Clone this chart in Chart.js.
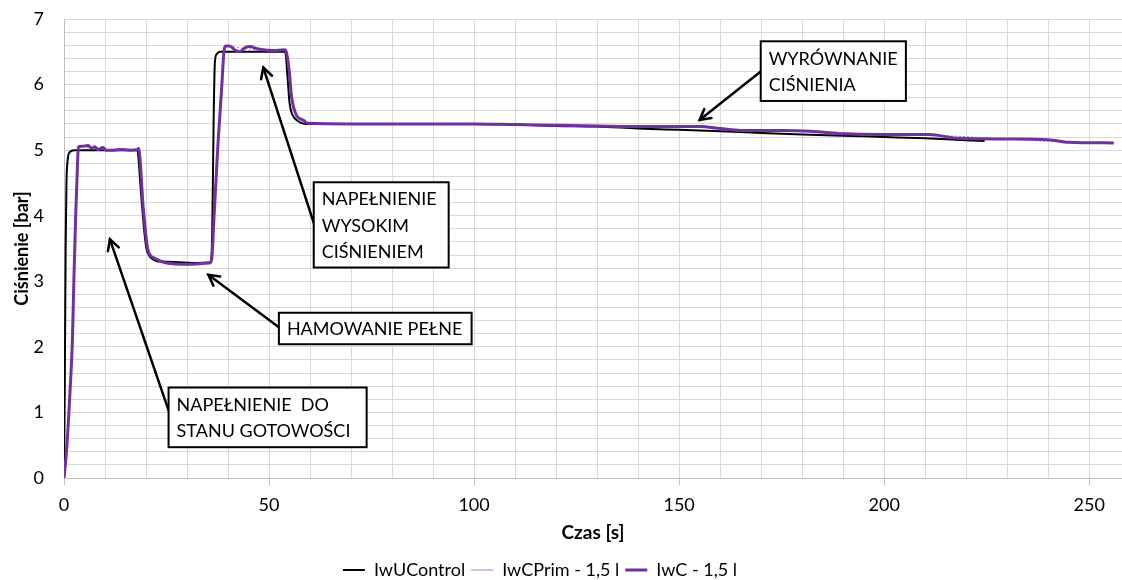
<!DOCTYPE html>
<html>
<head>
<meta charset="utf-8">
<script src="https://cdn.jsdelivr.net/npm/chart.js@4/dist/chart.umd.min.js"></script>
<style>
  html, body { margin: 0; padding: 0; background: #ffffff; }
  #wrap { width: 1122px; height: 580px; }
</style>
</head>
<body>
<div id="wrap"><canvas id="c" width="1122" height="580"></canvas></div>
<script>
// ---- Data ----
const seriesNames = ['IwUControl', 'IwCPrim - 1,5 l', 'IwC - 1,5 l'];

const uControlTime = [0, 0.2, 0.4, 0.6, 0.9, 1.4, 2.5, 8, 14, 17.9, 18.2, 18.6, 19.1, 19.6, 20.1, 20.7, 21.3, 22.5, 24, 28, 32, 35.9,
  36.2, 36.5, 36.8, 37.3, 38, 42, 46, 50, 53.8, 54.1, 54.4, 54.7, 55.0, 55.5, 56.1, 56.7, 57.7, 59,
  70, 80, 90, 100, 110, 120, 130, 140, 150, 160, 170, 180, 190, 200, 210, 220, 224.5];
const uControlPressure = [0, 1.5, 3.5, 4.5, 4.85, 4.97, 5.0, 5.0, 5.0, 5.0, 4.85, 4.5, 4.1, 3.75, 3.5, 3.4, 3.35, 3.31, 3.3, 3.29, 3.28, 3.29,
  4.0, 5.5, 6.35, 6.47, 6.5, 6.5, 6.5, 6.5, 6.5, 6.45, 6.2, 5.95, 5.72, 5.57, 5.5, 5.46, 5.42, 5.4,
  5.4, 5.4, 5.4, 5.4, 5.39, 5.37, 5.36, 5.33, 5.31, 5.29, 5.26, 5.24, 5.22, 5.2, 5.18, 5.15, 5.14];

const iwcTime = [0, 0.6, 1.2, 1.7, 2.05, 2.4, 2.85, 3.3, 3.5, 4.4, 5.9, 6.7, 7.5, 8.3, 9.5, 10.3, 12, 14, 16, 18.0,
  18.2, 19.3, 20.5, 22.1, 25, 29.9, 35.5, 36.0, 36.6, 37.2, 37.6, 38.4, 39.1, 39.5, 40.4, 41.6, 42.8, 44.1, 45.3, 46.9, 48.5, 51, 53.8,
  54.2, 54.9, 55.5, 56.7, 58.3, 59.5, 70, 80, 90, 100, 110, 120, 130, 140, 150, 155, 160, 165, 175, 182,
  190, 200, 211, 218, 230, 240, 245, 256];
const iwcPressure = [0, 0.4, 1.0, 1.6, 2.1, 3.0, 4.0, 4.8, 5.05, 5.06, 5.07, 5.03, 5.05, 5.01, 5.04, 5.0, 5.0, 5.01, 5.0, 5.01,
  5.03, 4.14, 3.47, 3.35, 3.28, 3.26, 3.28, 3.33, 4.0, 4.7, 5.15, 5.9, 6.55, 6.59, 6.59, 6.53, 6.5, 6.56, 6.58, 6.55, 6.53, 6.52, 6.53,
  6.5, 6.22, 5.81, 5.53, 5.46, 5.41, 5.4, 5.4, 5.4, 5.4, 5.39, 5.38, 5.37, 5.36, 5.36, 5.36, 5.33, 5.3, 5.3, 5.29,
  5.25, 5.24, 5.24, 5.18, 5.17, 5.16, 5.12, 5.11];

const primTime = [0, 1.2, 2.05, 2.85, 3.5, 6, 10, 14, 18.0, 19.3, 20.5, 22.1, 25, 30, 35.5, 36.6, 37.6, 39.1, 40.4, 44, 48, 53.8,
  54.9, 55.5, 56.7, 58.3, 60, 80, 100, 120, 140, 155, 165, 180, 200, 215, 230, 245, 256];
const primPressure = [0, 1.0, 2.1, 4.0, 5.05, 5.04, 5.01, 5.0, 5.01, 4.14, 3.47, 3.35, 3.28, 3.27, 3.28, 4.0, 5.15, 6.55, 6.58, 6.55, 6.53, 6.52,
  6.22, 5.81, 5.53, 5.46, 5.4, 5.4, 5.4, 5.38, 5.36, 5.36, 5.3, 5.29, 5.24, 5.22, 5.17, 5.12, 5.11];

const xTickLabels = [0, 50, 100, 150, 200, 250];
const yTickLabels = [0, 1, 2, 3, 4, 5, 6, 7];

// ---- Callouts (text + anchor in data units) ----
const callouts = [
  { lines: ['NAPEŁNIENIE  DO', 'STANU GOTOWOŚCI'], box: [25.5, 1.38, 73.8, 0.47], from: [25.5, 1.03], tip: [11.2, 3.64] },
  { lines: ['HAMOWANIE PEŁNE'], box: [52.4, 2.52, 99.4, 2.04], from: [52.4, 2.30], tip: [35.2, 3.10] },
  { lines: ['NAPEŁNIENIE', 'WYSOKIM', 'CIŚNIENIEM'], box: [60.9, 4.51, 93.8, 3.21], from: [60.9, 3.89], tip: [48.6, 6.26] },
  { lines: ['WYRÓWNANIE', 'CIŚNIENIA'], box: [169.9, 6.66, 205.3, 5.75], from: [169.9, 6.2], tip: [155.0, 5.46] }
];

function pts(t, v) { return t.map((x, i) => ({ x: x, y: v[i] })); }

const FONT = 'Lato, "Open Sans", "DejaVu Sans", sans-serif';
const GRID = '#d9d9d9';

// horizontal minor grid drawn from the y scale's own ticks
const hGridPlugin = {
  id: 'hgrid',
  beforeDatasetsDraw(chart) {
    const ctx = chart.ctx, ys = chart.scales.y, a = chart.chartArea;
    ctx.save();
    ctx.strokeStyle = GRID; ctx.lineWidth = 1;
    ys.ticks.forEach(t => {
      if (t.value === 0) return;
      const y = Math.round(ys.getPixelForValue(t.value) - 0.5) + 0.5;
      ctx.beginPath(); ctx.moveTo(a.left + 1, y); ctx.lineTo(a.right, y); ctx.stroke();
    });
    ctx.restore();
  }
};

// shift the centred legend row slightly left, as in the reference
const legendShift = {
  id: 'legendShift',
  afterLayout(chart) {
    const L = chart.legend;
    if (L) { L.right -= 42; L.width -= 42; }
  }
};

const calloutPlugin = {
  id: 'callouts',
  afterDatasetsDraw(chart) {
    const ctx = chart.ctx, xs = chart.scales.x, ys = chart.scales.y;
    ctx.save();
    callouts.forEach(c => {
      const x1 = xs.getPixelForValue(c.box[0]), y1 = ys.getPixelForValue(c.box[1]);
      const x2 = xs.getPixelForValue(c.box[2]), y2 = ys.getPixelForValue(c.box[3]);
      const fx = xs.getPixelForValue(c.from[0]), fy = ys.getPixelForValue(c.from[1]);
      const tx = xs.getPixelForValue(c.tip[0]), ty = ys.getPixelForValue(c.tip[1]);
      ctx.strokeStyle = '#000'; ctx.lineWidth = 2.5; ctx.lineCap = 'round';
      ctx.beginPath(); ctx.moveTo(fx, fy); ctx.lineTo(tx, ty); ctx.stroke();
      const ang = Math.atan2(ty - fy, tx - fx), L = 12, w = 0.5;
      ctx.beginPath();
      ctx.moveTo(tx - L * Math.cos(ang - w), ty - L * Math.sin(ang - w));
      ctx.lineTo(tx, ty);
      ctx.lineTo(tx - L * Math.cos(ang + w), ty - L * Math.sin(ang + w));
      ctx.lineJoin = 'miter'; ctx.stroke();
      ctx.fillStyle = '#fff';
      ctx.fillRect(x1, y1, x2 - x1, y2 - y1);
      ctx.lineWidth = 2; ctx.strokeStyle = '#000';
      ctx.strokeRect(x1, y1, x2 - x1, y2 - y1);
      ctx.fillStyle = '#000';
      ctx.font = '18px ' + FONT;
      ctx.textBaseline = 'middle'; ctx.textAlign = 'left';
      const lh = 26.3, cy = (y1 + y2) / 2, n = c.lines.length;
      c.lines.forEach((s, i) => {
        ctx.fillText(s, x1 + 8, cy + (i - (n - 1) / 2) * lh + 1);
      });
    });
    ctx.restore();
  }
};

new Chart(document.getElementById('c'), {
  type: 'line',
  data: {
    datasets: [
      { label: seriesNames[0], data: pts(uControlTime, uControlPressure), borderColor: '#000000', backgroundColor: '#000000',
        borderWidth: 2, pointRadius: 0, cubicInterpolationMode: 'monotone', order: 1 },
      { label: seriesNames[1], data: pts(primTime, primPressure), borderColor: '#8f88cc', backgroundColor: '#8f88cc',
        borderWidth: 1, borderDash: [2, 2], pointRadius: 0, cubicInterpolationMode: 'monotone', order: 2 },
      { label: seriesNames[2], data: pts(iwcTime, iwcPressure), borderColor: '#7030a0', backgroundColor: '#7030a0',
        borderWidth: 3, pointRadius: 0, cubicInterpolationMode: 'monotone', order: 0 }
    ]
  },
  options: {
    responsive: false,
    animation: false,
    devicePixelRatio: 1,
    layout: { padding: { top: 19, left: 0, right: 0, bottom: 0 } },
    plugins: {
      tooltip: { enabled: false },
      legend: {
        position: 'bottom',
        maxHeight: 25,
        labels: {
          usePointStyle: true, pointStyle: 'line', pointStyleWidth: 22,
          padding: 6, color: '#000',
          font: { family: FONT, size: 18 },
          sort: (a, b) => a.datasetIndex - b.datasetIndex
        }
      }
    },
    scales: {
      x: {
        type: 'linear', min: 0, max: 258,
        afterFit: s => { s.height = 77; s.paddingLeft = 0; s.paddingRight = 0; },
        afterBuildTicks: s => {
          const t = [];
          for (let v = 0; v <= 250; v += 10) t.push({ value: v });
          s.ticks = t;
        },
        ticks: {
          autoSkip: false, maxRotation: 0, padding: 9, color: '#000',
          font: { family: FONT, size: 18 },
          callback: v => (xTickLabels.includes(v) ? String(v) : '')
        },
        grid: {
          color: GRID, lineWidth: 1, tickLength: 7,
          tickColor: ctx => (ctx.tick && ctx.tick.value % 50 === 0 ? '#bfbfbf' : 'rgba(0,0,0,0)')
        },
        border: { color: '#bfbfbf', width: 1 },
        title: { display: true, text: 'Czas [s]', color: '#000',
          font: { family: FONT, size: 19, weight: 'bold' }, padding: { top: 0, bottom: 11 } }
      },
      y: {
        min: 0, max: 7,
        afterFit: s => { s.width = 64; s.paddingTop = 11; s.paddingBottom = 11; },
        afterBuildTicks: s => {
          const t = [];
          for (let i = 0; i <= 35; i++) t.push({ value: i / 5 });
          s.ticks = t;
        },
        ticks: {
          autoSkip: false, padding: 20, color: '#000',
          font: { family: FONT, size: 18 },
          callback: v => { const r = Math.round(v); return (Math.abs(v - r) < 1e-6 && yTickLabels.includes(r)) ? String(r) : ''; }
        },
        grid: { color: GRID, lineWidth: 1, drawTicks: false },
        border: { color: '#bfbfbf', width: 1 },
        title: { display: true, text: 'Ciśnienie [bar]', color: '#000',
          font: { family: FONT, size: 18, weight: 'bold' }, padding: { top: 11, bottom: 0 } }
      }
    }
  },
  plugins: [hGridPlugin, legendShift, calloutPlugin]
});
</script>
</body>
</html>
